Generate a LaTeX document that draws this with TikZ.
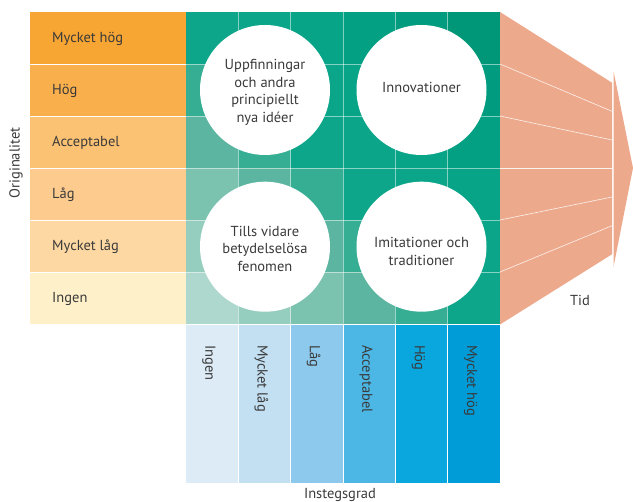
\documentclass[tikz,border=0pt]{standalone}
\usepackage{fontspec}
\setmainfont{PT Sans}
\definecolor{txt}{HTML}{3A3A3A}
\definecolor{or0}{HTML}{F7A533}
\definecolor{or1}{HTML}{F9AF4B}
\definecolor{or2}{HTML}{FBC274}
\definecolor{or3}{HTML}{FDCB8D}
\definecolor{or4}{HTML}{FDD8A2}
\definecolor{or5}{HTML}{FEF0C8}
\definecolor{lvl0}{HTML}{AED8CD}
\definecolor{lvl1}{HTML}{95CDBE}
\definecolor{lvl2}{HTML}{7BC2AF}
\definecolor{lvl3}{HTML}{5CB5A0}
\definecolor{lvl4}{HTML}{35AE94}
\definecolor{lvl5}{HTML}{0DA68A}
\definecolor{lvl6}{HTML}{0BA58A}
\definecolor{lvl7}{HTML}{08A487}
\definecolor{lvl8}{HTML}{04A083}
\definecolor{lvl9}{HTML}{019C7F}
\definecolor{lvl10}{HTML}{009779}
\definecolor{bl0}{HTML}{DDEBF6}
\definecolor{bl1}{HTML}{C3DFF2}
\definecolor{bl2}{HTML}{8DC9EC}
\definecolor{bl3}{HTML}{4CB7E5}
\definecolor{bl4}{HTML}{0AA6DE}
\definecolor{bl5}{HTML}{009CD8}
\definecolor{salmon}{HTML}{EDA98C}
\tikzset{
  lab/.style={text=txt, inner sep=0pt, font=\fontsize{14.5}{17}\selectfont},
  bubble/.style={circle, fill=white, minimum size=130pt, inner sep=0pt},
  btext/.style={align=center, inner sep=0pt, text=txt, font=\fontsize{14.5}{17.5}\selectfont},
  gridline/.style={white, opacity=0.5, line width=0.9pt},
  sepline/.style={white, line width=0.9pt},
  rayline/.style={white, opacity=0.85, line width=0.6pt}
}
\begin{document}
\begin{tikzpicture}[x=1pt,y=-1pt]
\useasboundingbox (0,0) rectangle (633,502);
% originality rows
\foreach \j/\t in {0/Mycket hög,1/Hög,2/Acceptabel,3/Låg,4/Mycket låg,5/Ingen} {
  \fill[or\j] (30,12+52*\j) rectangle (186,64+52*\j);
  \node[lab, anchor=west] (o\j) at (52,38.5+52*\j) {\t};
}
\foreach \j in {1,...,5} \draw[sepline] (30,12+52*\j) -- (186,12+52*\j);
% green matrix
\foreach \i in {0,...,5} {
  \foreach \j in {0,...,5} {
    \pgfmathtruncatemacro\lv{5-\j+\i}
    \fill[lvl\lv] (186+52.33*\i,12+52*\j) rectangle ++(52.33,52);
  }
}
\foreach \i in {1,...,5} \draw[gridline] (186+52.33*\i,12) -- (186+52.33*\i,324);
\foreach \j in {1,...,5} \draw[gridline] (186,12+52*\j) -- (500,12+52*\j);
% entry-degree columns
\foreach \i/\t in {0/Ingen,1/Mycket låg,2/Låg,3/Acceptabel,4/Hög,5/Mycket hög} {
  \fill[bl\i] (186+52.33*\i,325) rectangle ++(52.33,158);
  \node[lab, anchor=west, rotate=-90] (b\i) at (209+52.33*\i,345) {\t};
}
\foreach \i in {1,...,5} \draw[sepline] (186+52.33*\i,325) -- (186+52.33*\i,483);
\draw[sepline] (186,324.5) -- (500,324.5);
% time arrow
\fill[salmon] (500,12) -- (612,82.7) -- (612,254.3) -- (500,324.5) -- cycle;
\fill[salmon] (613.5,71) -- (633,168) -- (613.5,267) -- cycle;
\coordinate (r0) at (500,64);  \coordinate (s0) at (612,111.3);
\coordinate (r1) at (500,116); \coordinate (s1) at (612,140);
\coordinate (r2) at (500,168); \coordinate (s2) at (612,168);
\coordinate (r3) at (500,220); \coordinate (s3) at (612,197);
\coordinate (r4) at (500,272); \coordinate (s4) at (612,225.7);
\foreach \k in {0,...,4} \draw[rayline] (r\k) -- (s\k);
% bubbles
\node[bubble] (c1) at (265,90) {};
\node[bubble] (c2) at (421.5,90) {};
\node[bubble] (c3) at (265,246.7) {};
\node[bubble] (c4) at (421.5,246.7) {};
\node[btext] (t1) at (265,92.5) {Uppfinningar\\och andra\\principiellt\\nya idéer};
\node[btext] (t2) at (421.5,87) {Innovationer};
\node[btext] (t3) at (265,248.5) {Tills vidare\\betydelselösa\\fenomen};
\node[btext] (t4) at (421.5,251.5) {Imitationer och\\traditioner};
% axis labels
\node[lab, rotate=90] (yax) at (16,163) {Originalitet};
\node[lab] (xax) at (340,495) {Instegsgrad};
\node[lab] (tid) at (580,300) {Tid};
\end{tikzpicture}
\end{document}
